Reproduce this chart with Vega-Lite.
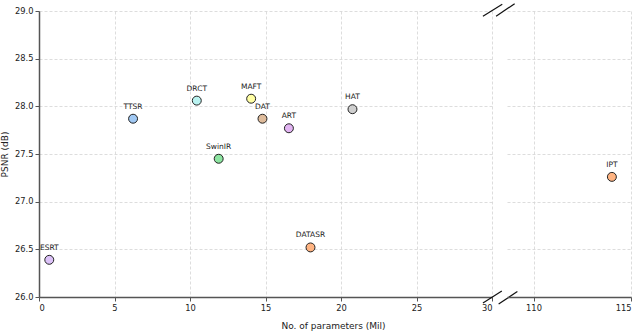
{
  "$schema": "https://vega.github.io/schema/vega-lite/v6.json",
  "padding": {"left": 0, "top": 3, "right": 5, "bottom": 2},
  "background": "white",
  "config": {
    "view": {"stroke": null},
    "font": "DejaVu Sans",
    "axis": {
      "domainColor": "#555",
      "domainWidth": 1.5,
      "tickColor": "#555",
      "tickSize": 4,
      "labelFontSize": 8.3,
      "labelColor": "#222",
      "titleFontSize": 9,
      "titleFontWeight": "normal",
      "titleColor": "#222",
      "gridColor": "#d4d4d4",
      "gridDash": [3, 2],
      "gridWidth": 0.8,
      "labelPadding": 2
    }
  },
  "datasets": {
    "models": [
      {"model": "ESRT", "params": 0.68, "psnr": 26.39},
      {"model": "TTSR", "params": 6.23, "psnr": 27.87},
      {"model": "DRCT", "params": 10.45, "psnr": 28.06},
      {"model": "MAFT", "params": 14.05, "psnr": 28.08},
      {"model": "DAT", "params": 14.8, "psnr": 27.87},
      {"model": "ART", "params": 16.55, "psnr": 27.77},
      {"model": "SwinIR", "params": 11.9, "psnr": 27.45},
      {"model": "HAT", "params": 20.76, "psnr": 27.97},
      {"model": "DATASR", "params": 17.98, "psnr": 26.52},
      {"model": "IPT", "params": 114.02, "psnr": 27.26}
    ],
    "breaks": [
      {"x": 29.4, "x2": 30.65, "y": 25.937, "y2": 26.063},
      {"x": 30.44, "x2": 31.68, "y": 25.926, "y2": 26.058},
      {"x": 29.4, "x2": 30.68, "y": 28.944, "y2": 29.07},
      {"x": 30.27, "x2": 31.5, "y": 28.944, "y2": 29.077}
    ]
  },
  "bounds": "flush",
  "spacing": 15,
  "hconcat": [
    {
      "width": 453,
      "height": 286,
      "layer": [
        {
          "data": {"name": "models"},
          "transform": [{"filter": "datum.params < 50"}],
          "mark": {"type": "point", "shape": "circle", "filled": true, "size": 80, "stroke": "#222", "strokeWidth": 1, "opacity": 1},
          "encoding": {
            "x": {"field": "params", "type": "quantitative", "scale": {"domain": [0, 30], "nice": false, "zero": false},
                  "axis": {"values": [0, 5, 10, 15, 20, 25, 30], "title": "No. of parameters (Mil)", "titleX": 294, "titleAlign": "center", "titlePadding": 10}},
            "y": {"field": "psnr", "type": "quantitative", "scale": {"domain": [26, 29], "nice": false, "zero": false},
                  "axis": {"values": [26, 26.5, 27, 27.5, 28, 28.5, 29], "format": ".1f", "title": "PSNR (dB)", "titlePadding": 5}},
            "fill": {"field": "model", "type": "nominal", "legend": null,
                     "scale": {"domain": ["ESRT", "TTSR", "DRCT", "MAFT", "DAT", "ART", "SwinIR", "HAT", "DATASR", "IPT"],
                               "range": ["#dcc2f8", "#a1c9f4", "#b9f2f0", "#fffea3", "#debb9b", "#e2b4f2", "#8de5a1", "#cfcfcf", "#ffb482", "#ffb482"]}}
          }
        },
        {
          "data": {"name": "models"},
          "transform": [{"filter": "datum.params < 50"}],
          "mark": {"type": "text", "fontSize": 7.5, "color": "#222", "baseline": "bottom", "dy": -8},
          "encoding": {
            "x": {"field": "params", "type": "quantitative"},
            "y": {"field": "psnr", "type": "quantitative"},
            "text": {"field": "model"}
          }
        },
        {
          "mark": {"type": "rule", "color": "#555", "strokeWidth": 1.5},
          "encoding": {"y": {"datum": 29, "type": "quantitative"}}
        },
        {
          "data": {"name": "breaks"},
          "mark": {"type": "rule", "color": "#111", "strokeWidth": 1.2, "clip": false},
          "encoding": {
            "x": {"field": "x", "type": "quantitative"},
            "x2": {"field": "x2"},
            "y": {"field": "y", "type": "quantitative"},
            "y2": {"field": "y2"}
          }
        }
      ]
    },
    {
      "width": 124,
      "height": 286,
      "layer": [
        {
          "data": {"name": "models"},
          "transform": [{"filter": "datum.params > 50"}],
          "mark": {"type": "point", "shape": "circle", "filled": true, "size": 80, "stroke": "#222", "strokeWidth": 1, "opacity": 1},
          "encoding": {
            "x": {"field": "params", "type": "quantitative", "scale": {"domain": [108.64, 115], "nice": false, "zero": false},
                  "axis": {"values": [110, 115], "title": null}},
            "y": {"field": "psnr", "type": "quantitative", "scale": {"domain": [26, 29], "nice": false, "zero": false},
                  "axis": {"values": [26, 26.5, 27, 27.5, 28, 28.5, 29], "labels": false, "ticks": false, "domain": false, "title": null}},
            "fill": {"field": "model", "type": "nominal", "legend": null,
                     "scale": {"domain": ["ESRT", "TTSR", "DRCT", "MAFT", "DAT", "ART", "SwinIR", "HAT", "DATASR", "IPT"],
                               "range": ["#dcc2f8", "#a1c9f4", "#b9f2f0", "#fffea3", "#debb9b", "#e2b4f2", "#8de5a1", "#cfcfcf", "#ffb482", "#ffb482"]}}
          }
        },
        {
          "data": {"name": "models"},
          "transform": [{"filter": "datum.params > 50"}],
          "mark": {"type": "text", "fontSize": 7.5, "color": "#222", "baseline": "bottom", "dy": -8},
          "encoding": {
            "x": {"field": "params", "type": "quantitative"},
            "y": {"field": "psnr", "type": "quantitative"},
            "text": {"field": "model"}
          }
        },
        {
          "mark": {"type": "rule", "color": "#555", "strokeWidth": 1.5},
          "encoding": {"y": {"datum": 29, "type": "quantitative"}}
        },
        {
          "mark": {"type": "rule", "color": "#555", "strokeWidth": 1.5},
          "encoding": {"x": {"datum": 115, "type": "quantitative"}}
        }
      ]
    }
  ]
}
